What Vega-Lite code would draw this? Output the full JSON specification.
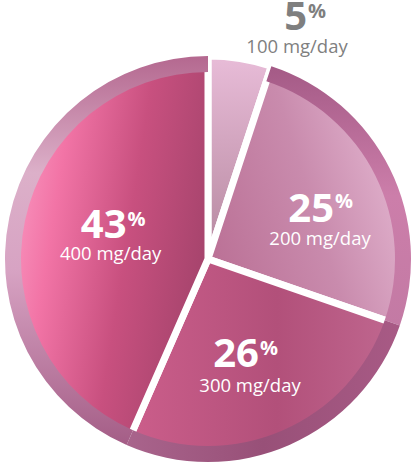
{
  "$schema": "https://vega.github.io/schema/vega-lite/v6.json",
  "description": "Share of people by daily dose, pie with rim",
  "autosize": {"type": "none"},
  "padding": {"left": 2, "top": 51, "right": 0, "bottom": 0},
  "width": 412,
  "height": 416,
  "background": "white",
  "config": {"view": {"stroke": null}},
  "data": {
    "values": [
      {"dose": "100 mg/day", "pct": 5},
      {"dose": "200 mg/day", "pct": 25},
      {"dose": "300 mg/day", "pct": 26},
      {"dose": "400 mg/day", "pct": 43}
    ]
  },
  "encoding": {
    "theta": {"field": "pct", "type": "quantitative", "stack": true},
    "detail": {"field": "dose", "type": "nominal"}
  },
  "layer": [
    {
      "mark": {"type": "arc", "radius": 203, "stroke": "white", "strokeWidth": 7,
        "fill": {"gradient": "linear", "x1": 0, "y1": 0, "x2": 0, "y2": 1,
          "stops": [{"offset": 0, "color": "#e8bcd8"}, {"offset": 1, "color": "#b5879e"}]}},
      "encoding": {"opacity": {"condition": {"test": "datum.dose === '100 mg/day'", "value": 1}, "value": 0}}
    },
    {
      "mark": {"type": "arc", "radius": 203, "stroke": "white", "strokeWidth": 7,
        "fill": {"gradient": "linear", "x1": 0, "y1": 0.7, "x2": 1, "y2": 0.3,
          "stops": [{"offset": 0, "color": "#bb7196"}, {"offset": 0.5, "color": "#c98bad"}, {"offset": 1, "color": "#e6bad4"}]}},
      "encoding": {"opacity": {"condition": {"test": "datum.dose === '200 mg/day'", "value": 1}, "value": 0}}
    },
    {
      "mark": {"type": "arc", "radius": 203, "stroke": "white", "strokeWidth": 7,
        "fill": {"gradient": "linear", "x1": 0, "y1": 0.5, "x2": 1, "y2": 0.5,
          "stops": [{"offset": 0, "color": "#cc5e8b"}, {"offset": 0.55, "color": "#b2507a"}, {"offset": 1, "color": "#c06890"}]}},
      "encoding": {"opacity": {"condition": {"test": "datum.dose === '300 mg/day'", "value": 1}, "value": 0}}
    },
    {
      "mark": {"type": "arc", "radius": 203, "stroke": "white", "strokeWidth": 7,
        "fill": {"gradient": "linear", "x1": 0, "y1": 0.3, "x2": 1, "y2": 0.6,
          "stops": [{"offset": 0, "color": "#fa9cc4"}, {"offset": 0.25, "color": "#f274a6"}, {"offset": 0.6, "color": "#c8507f"}, {"offset": 1, "color": "#a3436b"}]}},
      "encoding": {"opacity": {"condition": {"test": "datum.dose === '400 mg/day'", "value": 1}, "value": 0}}
    },
    {
      "mark": {"type": "arc", "radius": 203, "radius2": 187,
        "fill": {"gradient": "linear", "x1": 0, "y1": 0, "x2": 0, "y2": 1,
          "stops": [{"offset": 0, "color": "#a45a86"}, {"offset": 0.5, "color": "#cc7eaa"}, {"offset": 1, "color": "#c37aa4"}]}},
      "encoding": {"opacity": {"condition": {"test": "datum.dose === '200 mg/day'", "value": 1}, "value": 0}}
    },
    {
      "mark": {"type": "arc", "radius": 203, "radius2": 187,
        "fill": {"gradient": "linear", "x1": 0, "y1": 0.5, "x2": 1, "y2": 0.5,
          "stops": [{"offset": 0, "color": "#a9648c"}, {"offset": 0.5, "color": "#985078"}, {"offset": 1, "color": "#a85a85"}]}},
      "encoding": {"opacity": {"condition": {"test": "datum.dose === '300 mg/day'", "value": 1}, "value": 0}}
    },
    {
      "mark": {"type": "arc", "radius": 203, "radius2": 187,
        "fill": {"gradient": "linear", "x1": 0, "y1": 0, "x2": 0, "y2": 1,
          "stops": [{"offset": 0, "color": "#b4688f"}, {"offset": 0.3, "color": "#dcb0c9"}, {"offset": 0.55, "color": "#d7a3c3"}, {"offset": 1, "color": "#a45d86"}]}},
      "encoding": {"opacity": {"condition": {"test": "datum.dose === '400 mg/day'", "value": 1}, "value": 0}}
    },
    {
      "mark": {"type": "text", "radius": 225, "dx": 63.5, "dy": -6.8, "align": "right", "baseline": "alphabetic",
        "font": "Open Sans", "fontSize": 40, "fontWeight": "bold", "fill": "#7f7f7f"},
      "encoding": {"text": {"condition": {"test": "datum.dose === '100 mg/day'", "field": "pct", "type": "quantitative"}, "value": ""}}
    },
    {
      "mark": {"type": "text", "radius": 225, "dx": 64.5, "dy": -18.8, "align": "left", "baseline": "alphabetic",
        "font": "Open Sans", "fontSize": 20, "fontWeight": "bold", "fill": "#7f7f7f"},
      "encoding": {"text": {"condition": {"test": "datum.dose === '100 mg/day'", "value": "%"}, "value": ""}}
    },
    {
      "mark": {"type": "text", "radius": 225, "dx": 53.5, "dy": 16.2, "align": "center", "baseline": "alphabetic",
        "font": "Open Sans", "fontSize": 18.5, "fill": "#7f7f7f"},
      "encoding": {"text": {"condition": {"test": "datum.dose === '100 mg/day'", "field": "dose", "type": "nominal"}, "value": ""}}
    },
    {
      "mark": {"type": "text", "radius": 120, "dx": 18.5, "dy": 16.3, "align": "right", "baseline": "alphabetic",
        "font": "Open Sans", "fontSize": 40, "fontWeight": "bold", "fill": "white"},
      "encoding": {"text": {"condition": {"test": "datum.dose === '200 mg/day'", "field": "pct", "type": "quantitative"}, "value": ""}}
    },
    {
      "mark": {"type": "text", "radius": 120, "dx": 19.5, "dy": 2.3, "align": "left", "baseline": "alphabetic",
        "font": "Open Sans", "fontSize": 20, "fontWeight": "bold", "fill": "white"},
      "encoding": {"text": {"condition": {"test": "datum.dose === '200 mg/day'", "value": "%"}, "value": ""}}
    },
    {
      "mark": {"type": "text", "radius": 120, "dx": 4.5, "dy": 39.3, "align": "center", "baseline": "alphabetic",
        "font": "Open Sans", "fontSize": 18.5, "fill": "white"},
      "encoding": {"text": {"condition": {"test": "datum.dose === '200 mg/day'", "field": "dose", "type": "nominal"}, "value": ""}}
    },
    {
      "mark": {"type": "text", "radius": 110, "dx": 6.9, "dy": 7.2, "align": "right", "baseline": "alphabetic",
        "font": "Open Sans", "fontSize": 40, "fontWeight": "bold", "fill": "white"},
      "encoding": {"text": {"condition": {"test": "datum.dose === '300 mg/day'", "field": "pct", "type": "quantitative"}, "value": ""}}
    },
    {
      "mark": {"type": "text", "radius": 110, "dx": 7.9, "dy": -4.8, "align": "left", "baseline": "alphabetic",
        "font": "Open Sans", "fontSize": 20, "fontWeight": "bold", "fill": "white"},
      "encoding": {"text": {"condition": {"test": "datum.dose === '300 mg/day'", "value": "%"}, "value": ""}}
    },
    {
      "mark": {"type": "text", "radius": 110, "dx": -2.1, "dy": 32.2, "align": "center", "baseline": "alphabetic",
        "font": "Open Sans", "fontSize": 18.5, "fill": "white"},
      "encoding": {"text": {"condition": {"test": "datum.dose === '300 mg/day'", "field": "dose", "type": "nominal"}, "value": ""}}
    },
    {
      "mark": {"type": "text", "radius": 100, "dx": 16.5, "dy": -0.5, "align": "right", "baseline": "alphabetic",
        "font": "Open Sans", "fontSize": 40, "fontWeight": "bold", "fill": "white"},
      "encoding": {"text": {"condition": {"test": "datum.dose === '400 mg/day'", "field": "pct", "type": "quantitative"}, "value": ""}}
    },
    {
      "mark": {"type": "text", "radius": 100, "dx": 17.5, "dy": -12.5, "align": "left", "baseline": "alphabetic",
        "font": "Open Sans", "fontSize": 20, "fontWeight": "bold", "fill": "white"},
      "encoding": {"text": {"condition": {"test": "datum.dose === '400 mg/day'", "value": "%"}, "value": ""}}
    },
    {
      "mark": {"type": "text", "radius": 100, "dx": 0.5, "dy": 21.5, "align": "center", "baseline": "alphabetic",
        "font": "Open Sans", "fontSize": 18.5, "fill": "white"},
      "encoding": {"text": {"condition": {"test": "datum.dose === '400 mg/day'", "field": "dose", "type": "nominal"}, "value": ""}}
    }
  ]
}
